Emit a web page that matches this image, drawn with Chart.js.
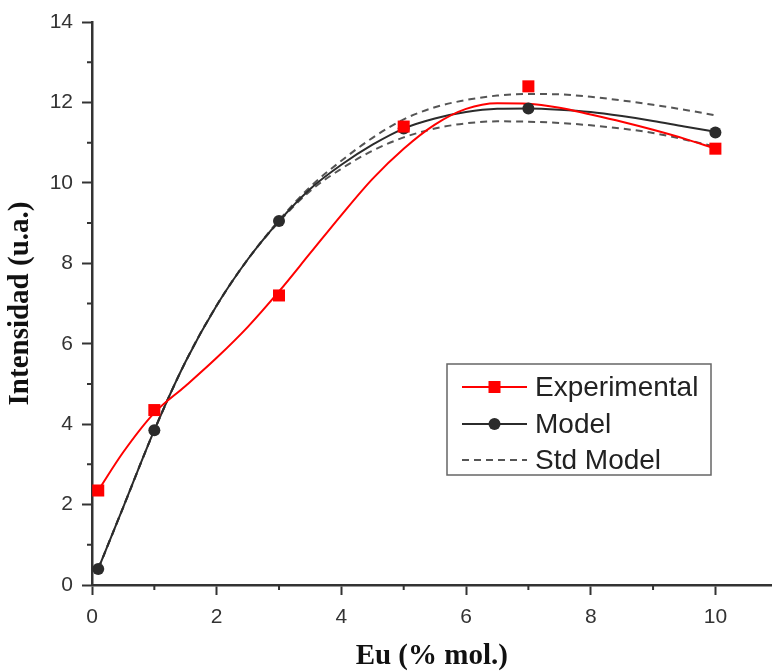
<!DOCTYPE html>
<html>
<head>
<meta charset="utf-8">
<script src="https://cdn.jsdelivr.net/npm/chart.js@4.4.1/dist/chart.umd.min.js"></script>
<style>
    html, body { margin: 0; padding: 0; background: #ffffff; overflow: hidden; }
    #wrap { width: 780px; height: 671px; position: relative; }
</style>
</head>
<body>
<div id="wrap"><canvas id="chart"></canvas></div>
<script>
// measured points
const pointX = [0.1, 1, 3, 5, 7, 10];
const experimentalY = [2.35, 4.35, 7.2, 11.4, 12.4, 10.85];
const modelY = [0.4, 3.85, 9.05, 11.35, 11.85, 11.25];

// smoothed curves
const curveX = [0.1, 0.5, 1, 1.5, 2, 2.5, 3, 3.5, 4, 4.5, 5, 5.5, 6, 6.5, 7, 7.5, 8, 8.5, 9, 9.5, 10];
const experimentalCurveY = [2.35, 3.3, 4.28, 4.95, 5.65, 6.42, 7.3, 8.25, 9.2, 10.1, 10.85, 11.45, 11.84, 11.98, 11.97, 11.87, 11.7, 11.52, 11.32, 11.1, 10.85];
const modelCurveY = [0.4, 1.93, 3.85, 5.55, 6.95, 8.1, 9.05, 9.85, 10.45, 10.95, 11.35, 11.6, 11.76, 11.84, 11.85, 11.82, 11.76, 11.66, 11.54, 11.4, 11.27];
const stdUpperY = [0.4, 1.93, 3.85, 5.55, 6.95, 8.1, 9.07, 9.9, 10.55, 11.12, 11.58, 11.88, 12.06, 12.17, 12.21, 12.2, 12.14, 12.05, 11.94, 11.82, 11.68];
const stdLowerY = [0.4, 1.93, 3.85, 5.55, 6.95, 8.1, 9.03, 9.8, 10.35, 10.8, 11.13, 11.35, 11.48, 11.53, 11.52, 11.49, 11.43, 11.35, 11.24, 11.08, 10.9];

const xMajor = [0, 2, 4, 6, 8, 10];
const xMinor = [1, 3, 5, 7, 9];
const yMajor = [0, 2, 4, 6, 8, 10, 12, 14];
const yMinor = [1, 3, 5, 7, 9, 11, 13];

const legendItems = ['Experimental', 'Model', 'Std Model'];

const toXY = (xs, ys) => xs.map((x, i) => ({ x: x, y: ys[i] }));

const axisColor = '#333333';
const red = '#ff0000';
const dark = '#2b2b2b';
const dashGray = '#555555';

const minorTicks = {
    id: 'minorTicks',
    afterDraw(chart) {
        const { ctx, chartArea, scales } = chart;
        ctx.save();
        ctx.strokeStyle = axisColor;
        ctx.lineWidth = 2;
        ctx.beginPath();
        xMinor.forEach(v => {
            const px = scales.x.getPixelForValue(v);
            ctx.moveTo(px, chartArea.bottom);
            ctx.lineTo(px, chartArea.bottom + 5);
        });
        yMinor.forEach(v => {
            const py = scales.y.getPixelForValue(v);
            ctx.moveTo(chartArea.left, py);
            ctx.lineTo(chartArea.left - 5, py);
        });
        ctx.stroke();
        ctx.restore();
    }
};

const boxLegend = {
    id: 'boxLegend',
    afterDraw(chart) {
        const ctx = chart.ctx;
        const box = { left: 447, top: 364, right: 711, bottom: 475 };
        const rows = [387, 424, 460];
        ctx.save();
        ctx.fillStyle = '#ffffff';
        ctx.fillRect(box.left, box.top, box.right - box.left, box.bottom - box.top);
        ctx.strokeStyle = '#666666';
        ctx.lineWidth = 1.5;
        ctx.strokeRect(box.left, box.top, box.right - box.left, box.bottom - box.top);

        const x0 = 462, x1 = 527, xm = (x0 + x1) / 2;
        // Experimental
        ctx.strokeStyle = red;
        ctx.lineWidth = 2;
        ctx.beginPath(); ctx.moveTo(x0, rows[0]); ctx.lineTo(x1, rows[0]); ctx.stroke();
        ctx.fillStyle = red;
        ctx.fillRect(xm - 6, rows[0] - 6, 12, 12);
        // Model
        ctx.strokeStyle = dark;
        ctx.beginPath(); ctx.moveTo(x0, rows[1]); ctx.lineTo(x1, rows[1]); ctx.stroke();
        ctx.fillStyle = dark;
        ctx.beginPath(); ctx.arc(xm, rows[1], 6, 0, Math.PI * 2); ctx.fill();
        // Std Model
        ctx.strokeStyle = dashGray;
        ctx.setLineDash([7, 5]);
        ctx.beginPath(); ctx.moveTo(x0, rows[2]); ctx.lineTo(x1, rows[2]); ctx.stroke();
        ctx.setLineDash([]);

        ctx.fillStyle = '#222222';
        ctx.font = '28px "Liberation Sans", Arial, sans-serif';
        ctx.textBaseline = 'middle';
        legendItems.forEach((label, i) => ctx.fillText(label, 535, rows[i] + 1));
        ctx.restore();
    }
};

const curveStyle = {
    showLine: true,
    pointRadius: 0,
    pointHoverRadius: 0,
    borderWidth: 2,
    cubicInterpolationMode: 'monotone',
    fill: false,
    clip: false
};

const ctx = document.getElementById('chart').getContext('2d');
const chart = new Chart(ctx, {
    type: 'scatter',
    data: {
        datasets: [
            {
                label: 'Experimental',
                data: toXY(pointX, experimentalY),
                pointStyle: 'rect',
                pointRadius: 8.5,
                backgroundColor: red,
                borderColor: red,
                borderWidth: 0,
                showLine: false,
                clip: false,
                order: 0
            },
            {
                label: 'Model',
                data: toXY(pointX, modelY),
                pointStyle: 'circle',
                pointRadius: 6,
                backgroundColor: dark,
                borderColor: dark,
                borderWidth: 0,
                showLine: false,
                clip: false,
                order: 0
            },
            Object.assign({
                label: 'Experimental curve',
                data: toXY(curveX, experimentalCurveY),
                borderColor: red,
                order: 1
            }, curveStyle),
            Object.assign({
                label: 'Model curve',
                data: toXY(curveX, modelCurveY),
                borderColor: dark,
                order: 2
            }, curveStyle),
            Object.assign({
                label: 'Std Model upper',
                data: toXY(curveX, stdUpperY),
                borderColor: dashGray,
                borderDash: [7, 5],
                order: 3
            }, curveStyle),
            Object.assign({
                label: 'Std Model lower',
                data: toXY(curveX, stdLowerY),
                borderColor: dashGray,
                borderDash: [7, 5],
                order: 3
            }, curveStyle)
        ]
    },
    options: {
        responsive: true,
        maintainAspectRatio: false,
        animation: false,
        events: [],
        layout: {
            padding: { top: 22, right: 0, left: 0, bottom: 0 }
        },
        plugins: {
            legend: { display: false },
            tooltip: { enabled: false }
        },
        scales: {
            x: {
                type: 'linear',
                min: 0,
                max: 10.9,
                afterBuildTicks: scale => {
                    scale.ticks = xMajor.map(v => ({ value: v }));
                },
                afterFit: scale => {
                    scale.height = 86;
                },
                ticks: {
                    color: axisColor,
                    font: { family: '"Liberation Sans", Arial, sans-serif', size: 21 },
                    padding: 10,
                    maxRotation: 0,
                    autoSkip: false
                },
                grid: {
                    drawOnChartArea: false,
                    tickLength: 10,
                    tickWidth: 2,
                    tickColor: axisColor
                },
                border: { display: true, color: axisColor, width: 2.5 },
                title: {
                    display: true,
                    text: 'Eu (% mol.)',
                    color: '#111111',
                    font: { family: '"Liberation Serif", "Times New Roman", serif', size: 29, weight: 'bold', lineHeight: 1 },
                    padding: { top: 0, bottom: 0 }
                }
            },
            y: {
                type: 'linear',
                min: 0,
                max: 14,
                afterBuildTicks: scale => {
                    scale.ticks = yMajor.map(v => ({ value: v }));
                },
                afterFit: scale => {
                    scale.width = 92;
                },
                ticks: {
                    color: axisColor,
                    font: { family: '"Liberation Sans", Arial, sans-serif', size: 21 },
                    padding: 9,
                    autoSkip: false
                },
                grid: {
                    drawOnChartArea: false,
                    tickLength: 10,
                    tickWidth: 2,
                    tickColor: axisColor
                },
                border: { display: true, color: axisColor, width: 2.5 },
                title: {
                    display: true,
                    text: 'Intensidad (u.a.)',
                    color: '#111111',
                    font: { family: '"Liberation Serif", "Times New Roman", serif', size: 29, weight: 'bold', lineHeight: 1 },
                    padding: { top: 6, bottom: 0 }
                }
            }
        }
    },
    plugins: [minorTicks, boxLegend]
});
</script>
</body>
</html>
